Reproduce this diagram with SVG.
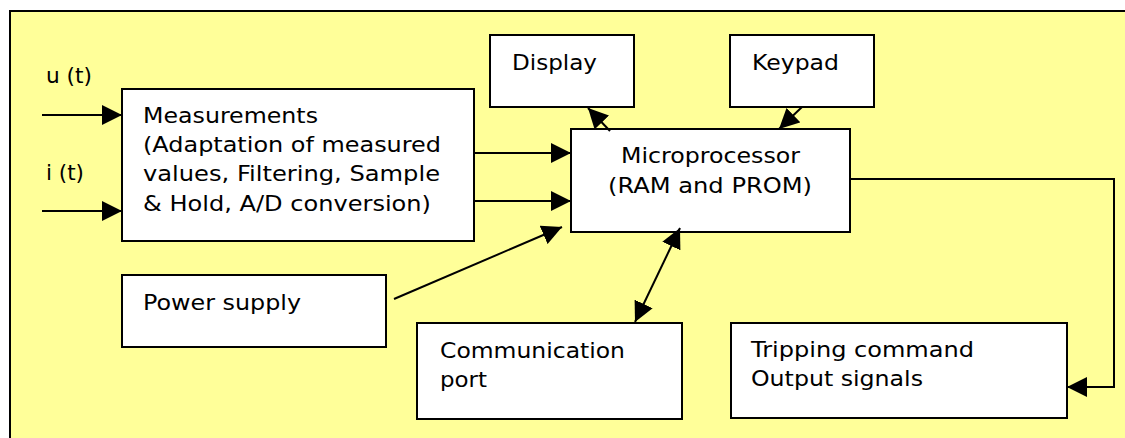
<svg xmlns="http://www.w3.org/2000/svg" width="1125" height="438" viewBox="0 0 1125 438">
<defs>
<marker id="ah" viewBox="0 0 20 20" refX="20" refY="10" markerWidth="20" markerHeight="20" markerUnits="userSpaceOnUse" orient="auto-start-reverse">
<path d="M0,0 L20,10 L0,20 z" fill="#000"/>
</marker>
<style>
.box{fill:#fff;stroke:#000;stroke-width:2}
.t{font-family:"DejaVu Sans","Verdana",sans-serif;font-size:21px;fill:#000}
.c{fill:none;stroke:#000;stroke-width:2}
.a{marker-end:url(#ah)}
</style>
</defs>
<rect x="0" y="0" width="1125" height="438" fill="#fff"/>
<rect x="10" y="11" width="1130" height="440" fill="#ffff99" stroke="#000" stroke-width="2"/>
<text class="t" x="46" y="83" textLength="46" lengthAdjust="spacingAndGlyphs">u (t)</text>
<text class="t" x="46" y="180" textLength="38" lengthAdjust="spacingAndGlyphs">i (t)</text>
<g id="measurements">
<rect class="box" x="122" y="89" width="352" height="152"/>
<text class="t" x="143" y="123" textLength="175" lengthAdjust="spacingAndGlyphs">Measurements</text>
<text class="t" x="143" y="152" textLength="298" lengthAdjust="spacingAndGlyphs">(Adaptation of measured</text>
<text class="t" x="143" y="181" textLength="297" lengthAdjust="spacingAndGlyphs">values, Filtering, Sample</text>
<text class="t" x="143" y="211" textLength="288" lengthAdjust="spacingAndGlyphs">&amp; Hold, A/D conversion)</text>
</g>
<g id="display">
<rect class="box" x="490" y="35" width="144" height="72"/>
<text class="t" x="512" y="70" textLength="85" lengthAdjust="spacingAndGlyphs">Display</text>
</g>
<g id="keypad">
<rect class="box" x="730" y="35" width="144" height="72"/>
<text class="t" x="752" y="70" textLength="87" lengthAdjust="spacingAndGlyphs">Keypad</text>
</g>
<g id="microprocessor">
<rect class="box" x="571" y="129" width="279" height="103"/>
<text class="t" x="710.5" y="163" text-anchor="middle" textLength="179" lengthAdjust="spacingAndGlyphs">Microprocessor</text>
<text class="t" x="710" y="193" text-anchor="middle" textLength="204" lengthAdjust="spacingAndGlyphs">(RAM and PROM)</text>
</g>
<g id="power">
<rect class="box" x="122" y="275" width="264" height="72"/>
<text class="t" x="143" y="310" textLength="158" lengthAdjust="spacingAndGlyphs">Power supply</text>
</g>
<g id="communication">
<rect class="box" x="417" y="323" width="265" height="96"/>
<text class="t" x="440" y="358" textLength="185" lengthAdjust="spacingAndGlyphs">Communication</text>
<text class="t" x="440" y="387" textLength="47" lengthAdjust="spacingAndGlyphs">port</text>
</g>
<g id="tripping">
<rect class="box" x="731" y="323" width="336" height="95"/>
<text class="t" x="751" y="357" textLength="223" lengthAdjust="spacingAndGlyphs">Tripping command</text>
<text class="t" x="751" y="386" textLength="172" lengthAdjust="spacingAndGlyphs">Output signals</text>
</g>
<g id="connectors">
<line class="c a" x1="42" y1="115" x2="122" y2="115"/>
<line class="c a" x1="42" y1="211" x2="122" y2="211"/>
<line class="c a" x1="474" y1="153" x2="571" y2="153"/>
<line class="c a" x1="474" y1="201" x2="571" y2="201"/>
<line class="c a" x1="394" y1="299" x2="562" y2="227"/>
<line class="c a" x1="610" y1="131" x2="588" y2="108"/>
<line class="c a" x1="802" y1="107" x2="779" y2="129"/>
<line class="c a" x1="635" y1="322" x2="680" y2="228" style="marker-start:url(#ah)"/>
<polyline class="c a" points="851,179 1114,179 1114,387 1067,387"/>
</g>
</svg>
